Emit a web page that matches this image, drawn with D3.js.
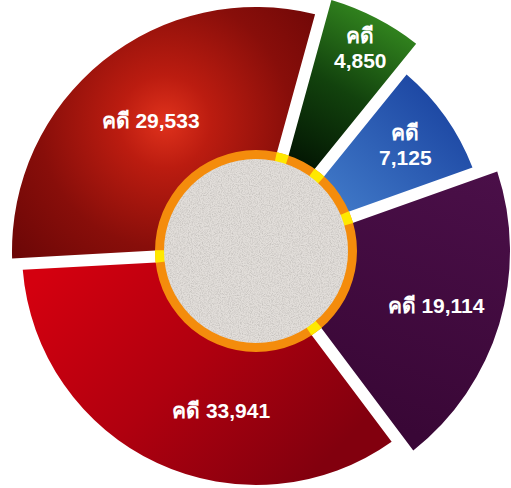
<!DOCTYPE html>
<html>
<head>
<meta charset="utf-8">
<script src="https://cdn.jsdelivr.net/npm/d3@7"></script>
<style>
  body { margin: 0; background: #fff; }
  svg { display: block; }
</style>
</head>
<body>
<div id="chart"></div>
<script>
// slices, clockwise from 9 o'clock
var sliceKeys = ["maroon", "green", "blue", "purple", "red"];
var caseCounts = [29533, 4850, 7125, 19114, 33941];
var labelPrefix = "คดี";

var width = 511, height = 488,
    cx = 256, cy = 251;

// look of each slice (not data)
var outerR = {maroon: 244, green: 262, blue: 232, purple: 254, red: 234};
var labelR = {maroon: 168, green: 228, blue: 183, purple: 188, red: 163};
var labelTurn = {maroon: 0, green: 0, blue: 0, purple: 0, red: -0.22};
var twoLines = {green: true, blue: true};

var data = sliceKeys.map(function(k, i) { return {key: k, value: caseCounts[i]}; });

var svg = d3.select("#chart").append("svg")
    .attr("width", width)
    .attr("height", height);

var defs = svg.append("defs");

// gradients are given in page coords, shifted to the chart centre
function grad(type, id, attrs, stops) {
  var gr = defs.append(type).attr("id", id)
      .attr("gradientUnits", "userSpaceOnUse")
      .attr("gradientTransform", "translate(" + (-cx) + "," + (-cy) + ")");
  Object.keys(attrs).forEach(function(k) { gr.attr(k, attrs[k]); });
  stops.forEach(function(s) {
    gr.append("stop").attr("offset", s[0]).attr("stop-color", s[1]);
  });
}

grad("radialGradient", "gMaroon", {cx: 165, cy: 122, r: 210},
  [[0, "#e0321c"], [0.22, "#bb1c10"], [0.6, "#880e0a"], [1, "#690606"]]);
grad("linearGradient", "gRed", {x1: 60, y1: 255, x2: 300, y2: 488},
  [[0, "#d4000f"], [0.5, "#b0000f"], [1, "#82000e"]]);
grad("linearGradient", "gGreen", {x1: 375, y1: 10, x2: 290, y2: 160},
  [[0, "#33871f"], [0.5, "#12420d"], [1, "#031603"]]);
grad("linearGradient", "gBlue", {x1: 445, y1: 85, x2: 330, y2: 205},
  [[0, "#1a43a0"], [1, "#4079c8"]]);
grad("linearGradient", "gPurple", {x1: 480, y1: 170, x2: 390, y2: 425},
  [[0, "#4a0f48"], [1, "#390736"]]);

var fills = {maroon: "url(#gMaroon)", red: "url(#gRed)", green: "url(#gGreen)",
             blue: "url(#gBlue)", purple: "url(#gPurple)"};

// paper grain for the centre disc
var grain = defs.append("filter").attr("id", "grain")
    .attr("x", 0).attr("y", 0).attr("width", 1).attr("height", 1);
grain.append("feTurbulence").attr("type", "fractalNoise")
    .attr("baseFrequency", 0.9).attr("numOctaves", 2).attr("seed", 4).attr("result", "n");
grain.append("feColorMatrix").attr("in", "n").attr("type", "matrix")
    .attr("values", "0 0 0 0 0.45  0 0 0 0 0.43  0 0 0 0 0.41  1.3 0 0 0 -0.5")
    .attr("result", "c");
grain.append("feComposite").attr("in", "c").attr("in2", "SourceGraphic").attr("operator", "in");

var pie = d3.pie()
    .sort(null)
    .value(function(d) { return d.value; })
    .startAngle(-Math.PI / 2 - 0.055)
    .endAngle(1.5 * Math.PI - 0.055)
    .padAngle(0.12);

var arcs = pie(data);

var arc = d3.arc()
    .innerRadius(96)
    .outerRadius(function(d) { return outerR[d.data.key]; })
    .padRadius(100);

var g = svg.append("g").attr("transform", "translate(" + cx + "," + cy + ")");

g.selectAll("path.slice")
  .data(arcs)
  .enter().append("path")
    .attr("class", "slice")
    .attr("d", arc)
    .attr("fill", function(d) { return fills[d.data.key]; });

// orange ring with yellow where the gaps cross it
var ring = d3.arc().innerRadius(91).outerRadius(101);
g.append("path")
    .attr("d", ring({startAngle: 0, endAngle: 2 * Math.PI}))
    .attr("fill", "#f48c0c");

g.selectAll("path.gapmark")
  .data(arcs)
  .enter().append("path")
    .attr("class", "gapmark")
    .attr("d", function(d) {
      return ring({startAngle: d.startAngle - 0.062, endAngle: d.startAngle + 0.062});
    })
    .attr("fill", "#ffe800");

g.append("circle").attr("r", 92).attr("fill", "#e2deda");
g.append("circle").attr("r", 92).attr("fill", "#fff").attr("filter", "url(#grain)");

// labels
var fmt = d3.format(",");
var labels = g.selectAll("text.lbl")
  .data(arcs)
  .enter().append("text")
    .attr("class", "lbl")
    .attr("transform", function(d) {
      var a = (d.startAngle + d.endAngle) / 2 + labelTurn[d.data.key],
          r = labelR[d.data.key];
      return "translate(" + (Math.sin(a) * r) + "," + (-Math.cos(a) * r) + ")";
    })
    .attr("text-anchor", "middle")
    .style("font-family", "'Liberation Sans', Arial, sans-serif")
    .style("font-weight", "bold")
    .style("font-size", "21px")
    .style("fill", "#fff");

labels.each(function(d) {
  var t = d3.select(this);
  if (twoLines[d.data.key]) {
    t.append("tspan").attr("x", 0).attr("dy", "-0.25em").text(labelPrefix);
    t.append("tspan").attr("x", 0).attr("dy", "1.2em").text(fmt(d.data.value));
  } else {
    t.append("tspan").attr("x", 0).attr("dy", "0.35em").text(labelPrefix + " " + fmt(d.data.value));
  }
});
</script>
</body>
</html>
